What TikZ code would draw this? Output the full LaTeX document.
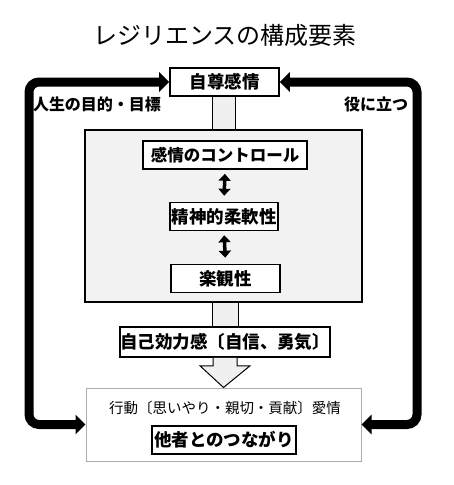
\documentclass[tikz,border=0pt]{standalone}
\usepackage{fontspec}
\setmainfont{Noto Sans CJK JP}
\usetikzlibrary{arrows.meta,calc}

\tikzset{
    lbl/.style={draw, line width=1.6pt, fill=white, inner sep=0pt, minimum height=28pt,
        font=\bfseries\fontsize{17.5}{17.5}\selectfont},
    bar/.style={draw, line width=1pt, fill=gray!12},
    loop/.style={line width=9pt, rounded corners=10pt,
        {Triangle[length=10pt,width=19pt]}-{Triangle[length=10pt,width=19pt]}},
    dbl/.style={line width=3.5pt, {Triangle[length=7pt,width=12pt]}-{Triangle[length=7pt,width=12pt]},
        shorten <=4pt, shorten >=6pt},
    side/.style={font=\bfseries\fontsize{16}{16}\selectfont}
}

\begin{document}
\begin{tikzpicture}[x=1pt,y=-1pt]
    \useasboundingbox (0,0) rectangle (453,485);
    \node (title) at (225,35) {\fontsize{24}{24}\selectfont レジリエンスの構成要素};

    \node[lbl, minimum width=109pt] (top) at (224.5,82) {自尊感情};
    \node[draw, line width=1.3pt, fill=gray!10, minimum width=277pt, minimum height=172pt] (core) at (223.5,216) {};
    \node[lbl, minimum width=164pt, font=\bfseries\fontsize{16.5}{16.5}\selectfont] (ctl) at (225,155) {感情のコントロール};
    \node[lbl, minimum width=108pt] (flex) at (224,216.5) {精神的柔軟性};
    \node[lbl, minimum width=109pt] (opt) at (225.5,278.5) {楽観性};
    \node[lbl, minimum width=210pt, minimum height=30pt, font=\bfseries\fontsize{17.5}{17.5}\selectfont] (eff) at (225,342) {自己効力感〔自信、勇気〕};
    \node[draw=gray!65, line width=1pt, fill=white, minimum width=275pt, minimum height=73pt] (bot) at (223.5,424.5) {};
    \node (act) at (225,408) {\fontsize{14.5}{14.5}\selectfont 行動〔思いやり・親切・貢献〕愛情};
    \node[lbl, minimum width=144pt] (link) at (224,440) {他者とのつながり};

    % connectors
    \draw[bar] ($(top.south)+(-12,0)$) rectangle ($(core.north)+(12,0)$);
    \draw[bar] ($(core.south)+(-11,0)$) rectangle ($(eff.north)+(13,0)$);
    \draw[bar] ($(eff.south)+(-12,0)$) -- ++(0,8) -- ++(-13,0) -- (bot.north)
        -- ($(eff.south)+(25,8)$) -- ++(-13,0) -- ($(eff.south)+(12,0)$);
    \draw[dbl] (ctl.south) -- (flex.north);
    \draw[dbl] (flex.south) -- (opt.north);

    % outer loop
    \coordinate (lc) at (29,82);
    \coordinate (rc) at (417,82);
    \draw[loop] (top.west) -| (lc |- bot.west) -- (bot.west);
    \draw[loop] (top.east) -| (rc |- bot.east) -- (bot.east);
    \node[side] (goal) at (97,104) {人生の目的・目標};
    \node[side] (use) at (376,104) {役に立つ};
\end{tikzpicture}
\end{document}
